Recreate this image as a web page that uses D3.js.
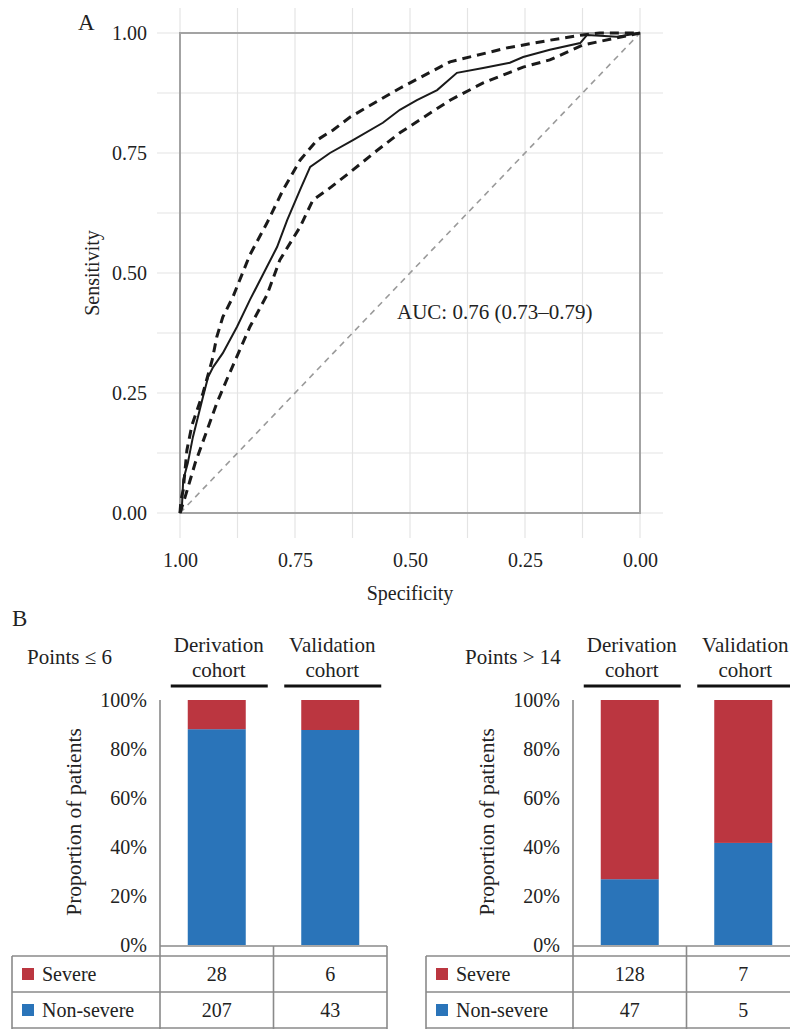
<!DOCTYPE html>
<html>
<head>
<meta charset="utf-8">
<script src="https://cdn.jsdelivr.net/npm/d3@7"></script>
<style>
  body { margin: 0; background: #fff; font-family: "Liberation Serif"; }
  svg { display: block; font-family: "Liberation Serif"; }
</style>
</head>
<body>
<svg id="chart" width="790" height="1029"></svg>
<script>
// ROC curve (specificity, sensitivity)
const rocSpec = [1.000, 0.996, 0.993, 0.983, 0.972, 0.961, 0.950, 0.939, 0.928, 0.907, 0.876, 0.848, 0.811, 0.789, 0.767, 0.739, 0.717, 0.674, 0.624, 0.559, 0.522, 0.485, 0.441, 0.398, 0.341, 0.283, 0.254, 0.196, 0.130, 0.115, 0.050, 0.000];
const rocSens = [0.000, 0.010, 0.069, 0.104, 0.158, 0.200, 0.242, 0.283, 0.304, 0.333, 0.388, 0.444, 0.513, 0.554, 0.610, 0.673, 0.721, 0.750, 0.777, 0.813, 0.840, 0.860, 0.881, 0.917, 0.927, 0.938, 0.950, 0.965, 0.979, 0.996, 0.992, 1.000];

const upperSpec = [1.000, 0.998, 0.993, 0.985, 0.974, 0.950, 0.930, 0.920, 0.907, 0.885, 0.848, 0.811, 0.776, 0.739, 0.702, 0.667, 0.630, 0.522, 0.413, 0.289, 0.196, 0.124, 0.087, 0.000];
const upperSens = [0.000, 0.027, 0.048, 0.131, 0.183, 0.250, 0.319, 0.367, 0.408, 0.450, 0.538, 0.604, 0.673, 0.735, 0.777, 0.798, 0.825, 0.885, 0.940, 0.969, 0.985, 0.996, 1.000, 1.000];

const lowerSpec = [1.000, 0.989, 0.967, 0.941, 0.920, 0.896, 0.870, 0.848, 0.811, 0.783, 0.739, 0.711, 0.680, 0.630, 0.576, 0.522, 0.413, 0.341, 0.254, 0.196, 0.124, 0.050, 0.000];
const lowerSens = [0.000, 0.033, 0.104, 0.173, 0.229, 0.283, 0.340, 0.388, 0.454, 0.527, 0.596, 0.652, 0.673, 0.710, 0.752, 0.792, 0.860, 0.896, 0.929, 0.944, 0.975, 0.990, 1.000];

const rocTicks = [0, 0.25, 0.5, 0.75, 1];
const rocGrid = [0, 0.125, 0.25, 0.375, 0.5, 0.625, 0.75, 0.875, 1];
const aucLabel = "AUC: 0.76 (0.73\u20130.79)";

// panel B counts
const cohorts = ["Derivation cohort", "Validation cohort"];
const lowSevere = [28, 6];
const lowNonSevere = [207, 43];
const highSevere = [128, 7];
const highNonSevere = [47, 5];
const pctTicks = [0, 0.2, 0.4, 0.6, 0.8, 1];

const red = "#bb3640", blue = "#2a74b9", gridGray = "#e4e4e4", lineGray = "#8a8a8a";
const FONT = "Liberation Serif";

const svg = d3.select("#chart");

// all labels go through this so they get the serif face
function label(sel, txt, size) {
    return sel.append("text")
        .style("font-family", `"${FONT}"`)
        .style("font-size", (size || 20) + "px")
        .style("fill", "#222")
        .text(txt);
}

// ---------- Panel A ----------
const x = d3.scaleLinear().domain([1, 0]).range([180, 640]);
const y = d3.scaleLinear().domain([0, 1]).range([513, 33]);

const gA = svg.append("g");

gA.selectAll(".vgrid").data(rocGrid).join("line")
    .attr("x1", d => x(d)).attr("x2", d => x(d))
    .attr("y1", 8).attr("y2", 538)
    .attr("stroke", gridGray).attr("stroke-width", 1.2);
gA.selectAll(".hgrid").data(rocGrid).join("line")
    .attr("x1", 157).attr("x2", 663)
    .attr("y1", d => y(d)).attr("y2", d => y(d))
    .attr("stroke", gridGray).attr("stroke-width", 1.2);

gA.append("rect")
    .attr("x", x(1)).attr("y", y(1))
    .attr("width", x(0) - x(1)).attr("height", y(0) - y(1))
    .attr("fill", "none").attr("stroke", "#a3a3a3").attr("stroke-width", 2);

const yAxis = d3.axisLeft(y).tickValues(rocTicks).tickSize(0).tickPadding(33).tickFormat(d3.format(".2f"));
const xAxis = d3.axisBottom(x).tickValues(rocTicks).tickSize(0).tickPadding(40).tickFormat(d3.format(".2f"));

function styleAxis(g) {
    g.attr("font-family", FONT).attr("font-size", 20);
    g.select(".domain").remove();
    g.selectAll("text")
        .style("font-family", `"${FONT}"`)
        .style("font-size", "20px")
        .style("fill", "#222");
}

gA.append("g").attr("transform", `translate(${x(1)},0)`).call(yAxis).call(styleAxis);
gA.append("g").attr("transform", `translate(0,${y(0)})`).call(xAxis).call(styleAxis);

// chance diagonal
gA.append("line")
    .attr("x1", x(1)).attr("y1", y(0)).attr("x2", x(0)).attr("y2", y(1))
    .attr("stroke", "#9a9a9a").attr("stroke-width", 1.6).attr("stroke-dasharray", "6,5");

const line = d3.line().x(d => x(d[0])).y(d => y(d[1]));

gA.append("path").datum(d3.zip(upperSpec, upperSens))
    .attr("d", line).attr("fill", "none").attr("stroke", "#1a1a1a")
    .attr("stroke-width", 3).attr("stroke-dasharray", "9,6");
gA.append("path").datum(d3.zip(lowerSpec, lowerSens))
    .attr("d", line).attr("fill", "none").attr("stroke", "#1a1a1a")
    .attr("stroke-width", 3).attr("stroke-dasharray", "9,6");
gA.append("path").datum(d3.zip(rocSpec, rocSens))
    .attr("d", line).attr("fill", "none").attr("stroke", "#1a1a1a")
    .attr("stroke-width", 2);

label(gA, aucLabel, 21).attr("x", 397).attr("y", 319);
label(gA, "A", 23).attr("x", 78).attr("y", 30);
label(gA, "Specificity").attr("x", 410).attr("y", 600).attr("text-anchor", "middle");
label(gA, "Sensitivity").attr("transform", "translate(99,273) rotate(-90)").attr("text-anchor", "middle");

// ---------- Panel B ----------
label(svg, "B", 23).attr("x", 12).attr("y", 626);

function drawBars(opt) {
    const g = svg.append("g");
    const yb = d3.scaleLinear().domain([0, 1]).range([945, 700]);
    const cols = d3.scaleBand().domain(cohorts).range([opt.axisX, opt.axisX + 227]);
    const barW = 58;

    const rows = cohorts.map((c, i) => {
        const tot = opt.severe[i] + opt.nonSevere[i];
        return { cohort: c, nonSevere: opt.nonSevere[i] / tot, severe: opt.severe[i] / tot };
    });
    const stack = d3.stack().keys(["nonSevere", "severe"])(rows);
    const fills = { nonSevere: blue, severe: red };

    g.selectAll(".layer").data(stack).join("g")
        .attr("fill", s => fills[s.key])
        .selectAll("rect").data(s => s).join("rect")
        .attr("x", d => cols(d.data.cohort) + cols.bandwidth() / 2 - barW / 2)
        .attr("width", barW)
        .attr("y", d => yb(d[1]))
        .attr("height", d => yb(d[0]) - yb(d[1]));

    // axis ticks
    const ax = d3.axisLeft(yb).tickValues(pctTicks).tickSize(0).tickPadding(13).tickFormat(d3.format(".0%"));
    g.append("g").attr("transform", `translate(${opt.axisX},0)`).call(ax).call(styleAxis);

    // headers
    cohorts.forEach(c => {
        const cx = cols(c) + cols.bandwidth() / 2;
        const words = c.split(" ");
        label(g, words[0], 21).attr("x", cx + 2).attr("y", 652).attr("text-anchor", "middle");
        label(g, words[1], 21).attr("x", cx + 2).attr("y", 677).attr("text-anchor", "middle");
        g.append("line").attr("x1", cx - 46).attr("x2", cx + 51)
            .attr("y1", 686).attr("y2", 686)
            .attr("stroke", "#111").attr("stroke-width", 3);
    });
    label(g, opt.title, 21).attr("x", opt.titleX).attr("y", 664);

    label(g, "Proportion of patients", 21.5)
        .attr("transform", `translate(${opt.axisX - 79},822) rotate(-90)`)
        .attr("text-anchor", "middle");

    // data table grid
    const right = opt.axisX + 227;
    const gl = (x1, y1, x2, y2) => g.append("line")
        .attr("x1", x1).attr("y1", y1).attr("x2", x2).attr("y2", y2)
        .attr("stroke", lineGray).attr("stroke-width", 1.6);
    gl(opt.axisX, 700, opt.axisX, 1029);
    gl(opt.axisX, 946, right, 946);
    gl(opt.tableLeft, 956, right, 956);
    gl(opt.tableLeft, 992, right, 992);
    gl(opt.tableLeft, 1028, right, 1028);
    gl(opt.tableLeft, 956, opt.tableLeft, 1029);
    cohorts.forEach(c => gl(cols(c) + cols.bandwidth(), 946, cols(c) + cols.bandwidth(), 1029));

    const tableRows = [
        { label: "Severe", color: red, vals: opt.severe, cy: 974 },
        { label: "Non-severe", color: blue, vals: opt.nonSevere, cy: 1010 }
    ];
    tableRows.forEach(r => {
        g.append("rect").attr("x", opt.tableLeft + 10).attr("y", r.cy - 6)
            .attr("width", 12).attr("height", 12).attr("fill", r.color);
        label(g, r.label).attr("x", opt.tableLeft + 30).attr("y", r.cy + 7);
        cohorts.forEach((c, i) => {
            label(g, r.vals[i]).attr("x", cols(c) + cols.bandwidth() / 2).attr("y", r.cy + 7)
                .attr("text-anchor", "middle");
        });
    });
}

drawBars({ axisX: 160, tableLeft: 12, title: "Points \u2264 6", titleX: 27, severe: lowSevere, nonSevere: lowNonSevere });
drawBars({ axisX: 573, tableLeft: 426, title: "Points > 14", titleX: 465, severe: highSevere, nonSevere: highNonSevere });
</script>
</body>
</html>
